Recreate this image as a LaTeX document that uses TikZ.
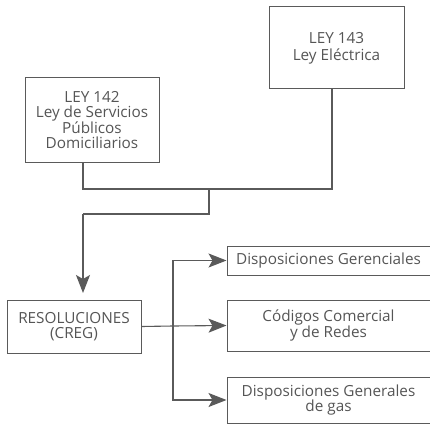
\documentclass[tikz,border=0pt]{standalone}
\usepackage{fontspec}
\setmainfont{Open Sans}
\usetikzlibrary{arrows.meta}
\definecolor{ln}{HTML}{5A5A5A}
\definecolor{tx}{HTML}{555555}
\begin{document}
\begin{tikzpicture}[x=1pt,y=-1pt,
  box/.style={draw=ln,line width=1pt,inner sep=0pt,align=center,text=tx,font=\fontsize{15.3}{15.5}\selectfont},
  conn/.style={draw=ln,line width=1.1pt},
  arr/.style={conn,-{Stealth[length=18pt,width=14pt,inset=4pt]}}]
\useasboundingbox (0,0) rectangle (430,425);
\node[box,minimum width=135pt,minimum height=82pt] (l143) at (336.5,48) {LEY 143\\[1.5pt]Ley Eléctrica};
\node[box,minimum width=134pt,minimum height=84pt] (l142) at (92,120) {LEY 142\\Ley de Servicios\\Públicos\\Domiciliarios};
\node[box,minimum width=134pt,minimum height=53pt] (res) at (74,326.5) {RESOLUCIONES\\(CREG)};
\node[box,minimum width=203pt,minimum height=29pt] (d1) at (328.5,260.5) {Disposiciones Gerenciales};
\node[box,minimum width=203pt,minimum height=51pt] (d2) at (328.5,325.5) {Códigos Comercial\\y de Redes};
\node[box,minimum width=203pt,minimum height=46pt] (d3) at (328.5,400) {Disposiciones Generales\\de gas};
\coordinate (j1) at (83,189);
\coordinate (j2) at (332,189);
\coordinate (m) at (209,189);
\coordinate (m2) at (209,214);
\coordinate (a2) at (83,214);
\coordinate (b) at (173,326);
\draw[conn] (l142.south -| j1) -- (j1) -- (j2) -- (l143.south -| j2);
\draw[conn] (m) -- (m2) -- (a2);
\draw[arr] (a2) -- (83,293);
\draw[conn] (res.east) -- (b);
\draw[arr] (b) -- (d2.west);
\draw[arr] (b) |- (d1.west);
\draw[arr] (b) |- (d3.west);
\end{tikzpicture}
\end{document}
